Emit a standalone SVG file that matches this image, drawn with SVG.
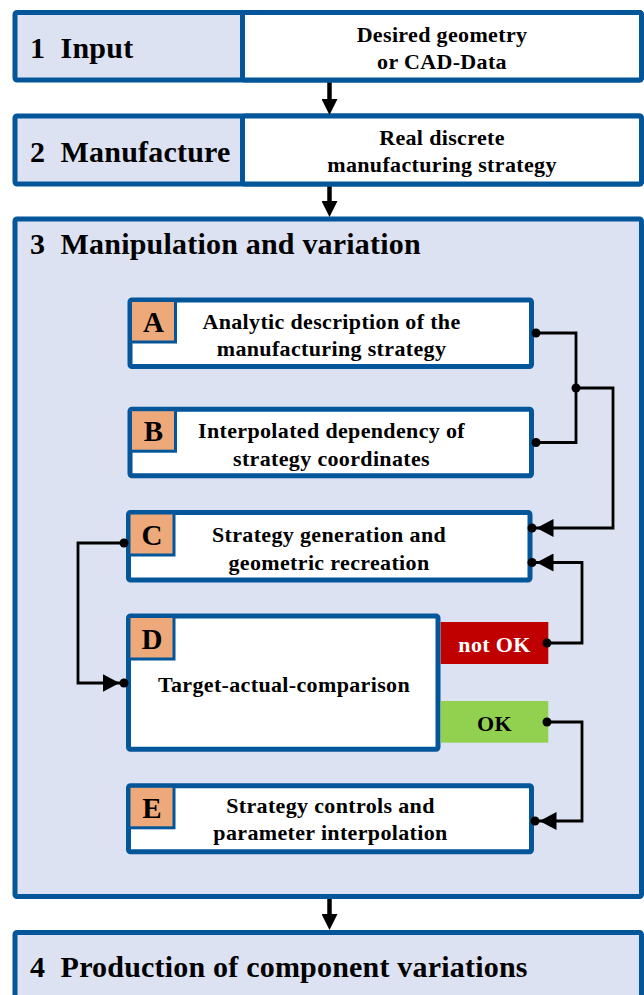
<svg xmlns="http://www.w3.org/2000/svg" width="644" height="995" viewBox="0 0 644 995">
<style>
.box{stroke:#03569A;stroke-width:5;}
.light{fill:#DCE2F1;}
.white{fill:#FFFFFF;}
.lab{fill:#EEA97A;stroke:#03569A;stroke-width:3;}
text{font-family:'Liberation Serif','Times New Roman',Times,'DejaVu Serif',serif;font-weight:bold;fill:#000;}
.h{font-size:30px;letter-spacing:0.2px;}
.t{font-size:22px;text-anchor:middle;letter-spacing:0.35px;}
.L{font-size:29px;text-anchor:middle;}
.wt{fill:#FFFFFF;}
.main{stroke:#000;stroke-width:4.5;fill:none;marker-end:url(#bigArrow);}
.con{stroke:#000;stroke-width:2.8;fill:none;stroke-linejoin:miter;}
.arr{marker-start:url(#dot);marker-end:url(#arrowDot);}
</style>
<defs>
<marker id="bigArrow" markerUnits="userSpaceOnUse" viewBox="0 0 16 16" markerWidth="16" markerHeight="16" refX="0" refY="8" orient="auto">
<path d="M0,0 L16,8 L0,16 z" fill="#000"/>
</marker>
<marker id="dot" markerUnits="userSpaceOnUse" viewBox="0 0 10 10" markerWidth="10" markerHeight="10" refX="5" refY="5" orient="auto">
<circle cx="5" cy="5" r="4.5" fill="#000"/>
</marker>
<marker id="arrowDot" markerUnits="userSpaceOnUse" viewBox="0 0 27 18" markerWidth="27" markerHeight="18" refX="21.5" refY="9" orient="auto">
<path d="M0,0 L17,9 L0,18 z" fill="#000"/>
<circle cx="21.5" cy="9" r="4.5" fill="#000"/>
</marker>
</defs>

<g id="step1">
<rect class="box light" x="15" y="12.5" width="626.5" height="67.5" rx="2"/>
<rect class="box white" x="242.5" y="12.5" width="399" height="67.5" rx="2"/>
<text class="h" x="30" y="58">1&#160; Input</text>
<text class="t" x="442" y="41.5">Desired geometry</text>
<text class="t" x="442" y="68.5">or CAD-Data</text>
</g>

<g id="step2">
<rect class="box light" x="15" y="116" width="626.5" height="68" rx="2"/>
<rect class="box white" x="242.5" y="116" width="399" height="68" rx="2"/>
<text class="h" x="30" y="162">2&#160; Manufacture</text>
<text class="t" x="442" y="144.5">Real discrete</text>
<text class="t" x="442" y="172">manufacturing strategy</text>
</g>

<g id="step3">
<rect class="box light" x="15" y="219" width="626.5" height="677.5" rx="2"/>
<text class="h" x="30" y="254">3&#160; Manipulation and variation</text>
</g>

<g id="step4">
<rect class="box light" x="15" y="932.5" width="626.5" height="80" rx="2"/>
<text class="h" x="30" y="977">4&#160; Production of component variations</text>
</g>

<g id="nodeA">
<rect class="box white" x="130" y="300" width="401.5" height="66.5" rx="2"/>
<rect class="lab" x="130.5" y="300.5" width="45" height="41.5"/>
<text class="L" x="153.5" y="332">A</text>
<text class="t" x="331.5" y="328.5">Analytic description of the</text>
<text class="t" x="331.5" y="356">manufacturing strategy</text>
</g>

<g id="nodeB">
<rect class="box white" x="130" y="409.2" width="401.5" height="66.5" rx="2"/>
<rect class="lab" x="130.5" y="409.7" width="45" height="41.5"/>
<text class="L" x="153.5" y="441.2">B</text>
<text class="t" x="331.5" y="438">Interpolated dependency of</text>
<text class="t" x="331.5" y="465.5">strategy coordinates</text>
</g>

<g id="nodeC">
<rect class="box white" x="128.5" y="512.5" width="401.5" height="67.5" rx="2"/>
<rect class="lab" x="129" y="513" width="45" height="42"/>
<text class="L" x="152" y="545">C</text>
<text class="t" x="329" y="542">Strategy generation and</text>
<text class="t" x="329" y="569.5">geometric recreation</text>
</g>

<g id="nodeD">
<rect class="box white" x="128.5" y="616" width="309.5" height="133.2" rx="2"/>
<rect class="lab" x="129" y="616.5" width="45" height="42.5"/>
<text class="L" x="152" y="648.5">D</text>
<text class="t" x="284" y="691.5">Target-actual-comparison</text>
</g>

<g id="notOK">
<rect x="440.7" y="622" width="107.6" height="42" fill="#C00000"/>
<text class="t wt" x="494.5" y="651.5">not OK</text>
</g>

<g id="OK">
<rect x="440.7" y="701" width="107.6" height="41.7" fill="#92D050"/>
<text class="t" x="494.5" y="730.5">OK</text>
</g>

<g id="nodeE">
<rect class="box white" x="128.5" y="785.8" width="403" height="66" rx="2"/>
<rect class="lab" x="129" y="786.3" width="45" height="41.5"/>
<text class="L" x="152" y="818">E</text>
<text class="t" x="330.5" y="812.5">Strategy controls and</text>
<text class="t" x="330.5" y="840">parameter interpolation</text>
</g>

<g id="connectors">
<path class="main" d="M329.5,82.5 V99"/>
<path class="main" d="M329.5,186.5 V201"/>
<path class="main" d="M329.5,899 V914"/>
<path class="con" d="M536,333 H576 V442.5 H536" marker-start="url(#dot)" marker-end="url(#dot)"/>
<circle cx="576" cy="388" r="4.5" fill="#000"/>
<path class="con" d="M576,388 H613 V528 H532" marker-end="url(#arrowDot)"/>
<path class="con arr" d="M547,643 H582 V562.5 H532"/>
<path class="con arr" d="M547,722 H582 V821 H535"/>
<path class="con arr" d="M124,543 H78 V683 H124"/>
</g>
</svg>
